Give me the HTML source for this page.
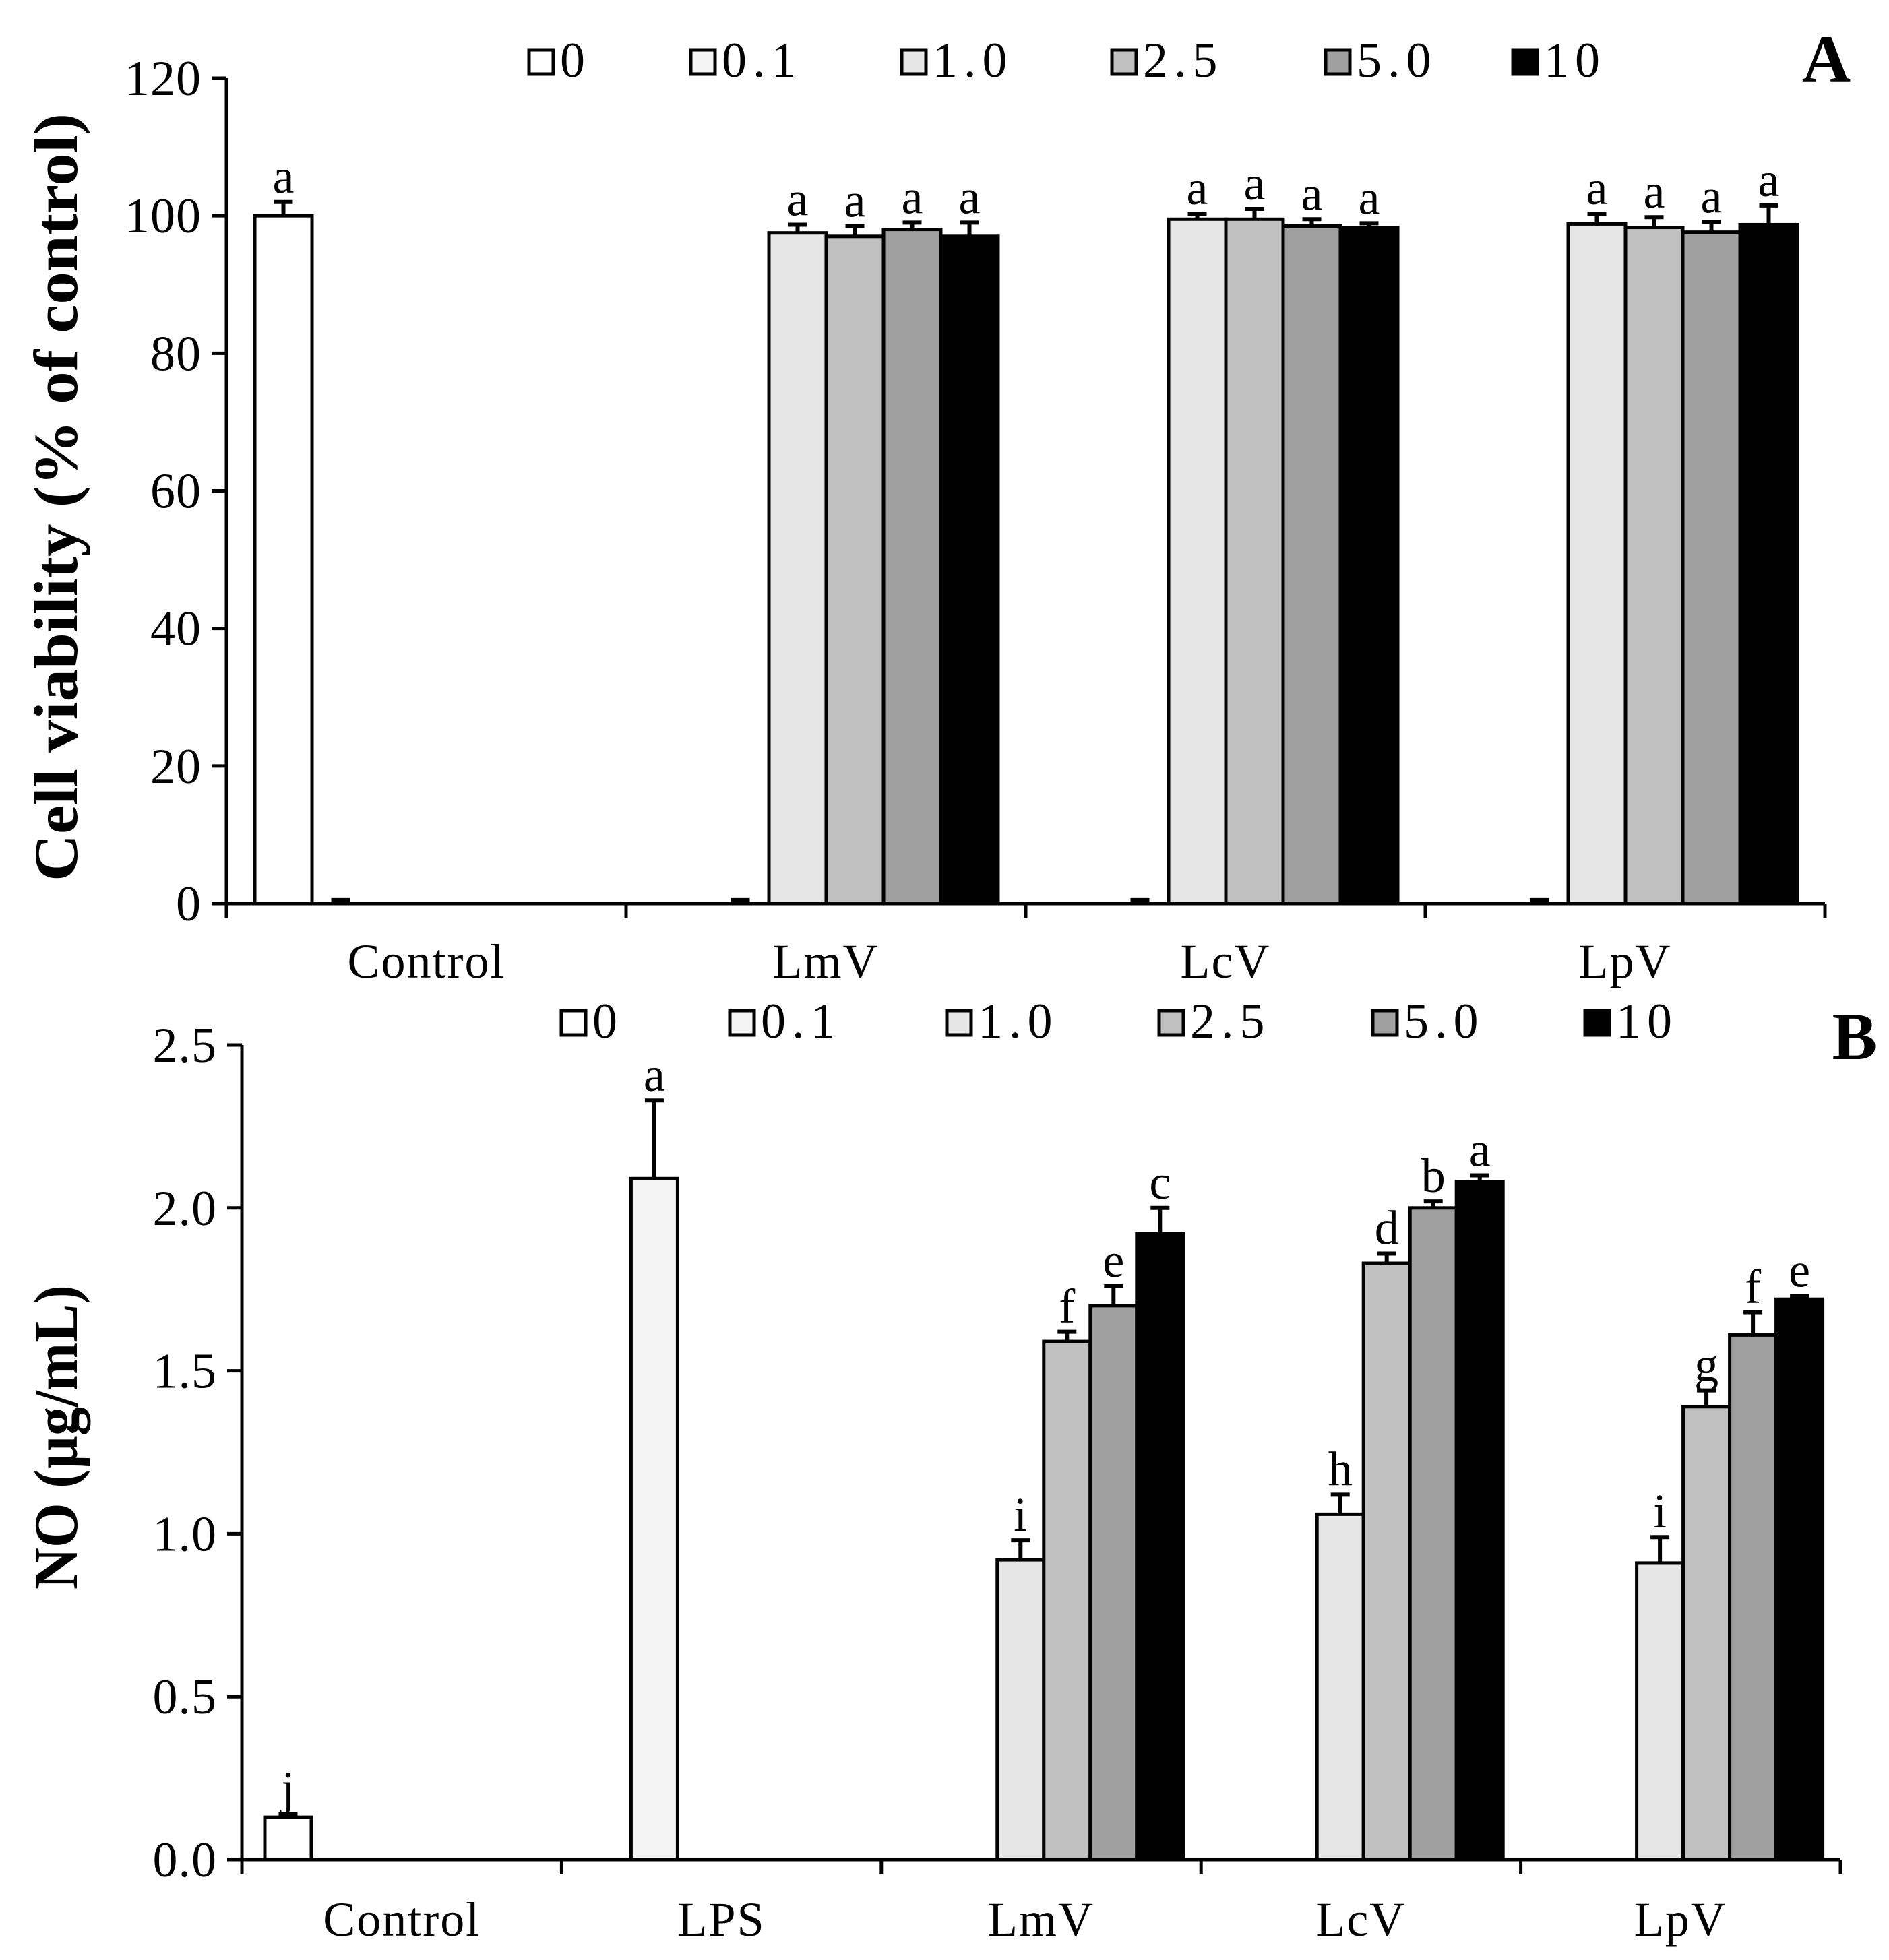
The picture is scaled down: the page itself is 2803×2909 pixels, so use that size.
<!DOCTYPE html>
<html><head><meta charset="utf-8"><style>
html,body{margin:0;padding:0;background:#fff}
svg{display:block}
text{font-family:"Liberation Serif",serif;fill:#000}
</style></head><body>
<svg id="chart" width="2803" height="2909" viewBox="0 0 2803 2909" xmlns="http://www.w3.org/2000/svg"></svg>
<script>
const seriesNames=["0","0.1","1.0","2.5","5.0","10"];
const seriesColors=["#ffffff","#f4f4f4","#e6e6e6","#c0c0c0","#a0a0a0","#000000"];
// Panel A
const catsA=["Control","LmV","LcV","LpV"];
const valsA=[[100,0,0,0],[0,0,0,0],[0,97.5,99.5,98.8],[0,97,99.5,98.3],[0,98,98.5,97.6],[0,97,98.3,98.7]];
const errsA=[[2,0,0,0],[0.5,0.5,0.5,0.5],[0,1.2,0.8,1.5],[0,1.5,1.5,1.5],[0,1,1,1.5],[0,2,0.6,2.8]];
const letA=[["a","","",""],["","","",""],["","a","a","a"],["","a","a","a"],["","a","a","a"],["","a","a","a"]];
const ticksA=["0","20","40","60","80","100","120"];
// Panel B
const catsB=["Control","LPS","LmV","LcV","LpV"];
const valsB=[[0.13,0,0,0,0],[0,2.09,0,0,0],[0,0,0.92,1.06,0.91],[0,0,1.59,1.83,1.39],[0,0,1.70,2.00,1.61],[0,0,1.92,2.08,1.72]];
const errsB=[[0.01,0,0,0,0],[0,0.24,0,0,0],[0,0,0.06,0.06,0.08],[0,0,0.03,0.03,0.05],[0,0,0.06,0.02,0.07],[0,0,0.08,0.02,0.01]];
const letB=[["j","","","",""],["","a","","",""],["","","i","h","i"],["","","f","d","g"],["","","e","b","f"],["","","c","a","e"]];
const ticksB=["0.0","0.5","1.0","1.5","2.0","2.5"];

const svg=document.getElementById('chart');
const NS="http://www.w3.org/2000/svg";
function mk(tag,attrs,parent){const e=document.createElementNS(NS,tag);for(const k in attrs)e.setAttribute(k,attrs[k]);(parent||svg).appendChild(e);return e;}

function panel(cfg){
  const g=mk('g',{});
  
  
  const {x0,x1,y0,y1,vmax,cats,vals,errs,lets,ticks,bw,margin}=cfg;
  const cw=(x1-x0)/cats.length;
  const yS=v=>y0-(v/vmax)*(y0-y1);
  for(let s=0;s<vals.length;s++){
    for(let c=0;c<cats.length;c++){
      const v=vals[s][c],e=errs[s][c];
      const bx=x0+c*cw+margin+s*bw;
      const cx=bx+bw/2;
      if(v>0){
        const r=mk('rect',{x:bx,y:yS(v),width:bw,height:y0-yS(v),fill:seriesColors[s],stroke:'#000','stroke-width':5},g);
        
        
      }
      if(e>0){
        const ye=yS(v+e);
        const l=mk('path',{d:`M${cx},${yS(v)}V${ye}M${cx-14},${ye}H${cx+14}`,stroke:'#000','stroke-width':6,fill:'none'},g);
        
        
      }
      if(lets[s][c]){
        const t=mk('text',{x:cx,y:yS(v+e)-14,'font-size':cfg.lfs,'text-anchor':'middle'},g);
        t.textContent=lets[s][c];
        
        
      }
    }
  }
  const ax=mk('path',{d:`M${x0},${y1}V${y0+22}M${x0-22},${y0}H${x1}`,stroke:'#000','stroke-width':5,fill:'none'},g);
  
  
  ticks.forEach((tl,i)=>{
    const v=i*vmax/(ticks.length-1);
    const y=yS(v);
    const tk=mk('path',{d:`M${x0-22},${y}H${x0}`,stroke:'#000','stroke-width':5},g);
    
    
    const t=mk('text',{x:x0-37,y:y+25,'font-size':74,'letter-spacing':1,'text-anchor':'end'},g);
    t.textContent=tl;
    
    
  });
  for(let c=0;c<=cats.length;c++){
    const x=x0+c*cw;
    const tk=mk('path',{d:`M${x},${y0}V${y0+22}`,stroke:'#000','stroke-width':5},g);
    
    
  }
  cats.forEach((n,c)=>{
    const t=mk('text',{x:x0+(c+0.5)*cw,y:cfg.xly,'font-size':72,'letter-spacing':2,'text-anchor':'middle'},g);
    t.textContent=n;
    
    
  });
  const yt=mk('text',{x:0,y:0,'font-size':cfg.tfs,'font-weight':'bold','text-anchor':'middle',textLength:cfg.tlen,lengthAdjust:'spacingAndGlyphs',transform:`translate(${cfg.tx},${cfg.ty}) rotate(-90)`},g);
  yt.textContent=cfg.title;
  
  
  cfg.legX.forEach((lx,i)=>{
    const le=mk('g',{},g);
    
    
    mk('rect',{x:lx,y:cfg.legY,width:36,height:36,fill:seriesColors[i],stroke:'#000','stroke-width':5},le);
    const t=mk('text',{x:lx+46,y:cfg.legY+40,'font-size':74,'letter-spacing':9},le);
    t.textContent=seriesNames[i];
  });
  const pl=mk('text',{x:cfg.plx,y:cfg.ply,'font-size':100,'font-weight':'bold','text-anchor':'middle'},g);
  pl.textContent=cfg.label;
  
  
}

panel({name:'panel-a',x0:336,x1:2708,y0:1341,y1:116,vmax:120,cats:catsA,vals:valsA,errs:errsA,lets:letA,ticks:ticksA,bw:85,margin:42,lfs:72,xly:1451,title:'Cell viability (% of control)',tfs:92,tlen:1140,tx:114,ty:738,legX:[785,1025,1338,1650,1967,2245],legY:74,plx:2710,ply:121,label:'A'});
panel({name:'panel-b',x0:359,x1:2731,y0:2760,y1:1551,vmax:2.5,cats:catsB,vals:valsB,errs:errsB,lets:letB,ticks:ticksB,bw:69,margin:34,lfs:72,xly:2873,title:'NO (µg/mL)',tfs:92,tlen:452,tx:114,ty:2133,legX:[833,1083,1405,1720,2037,2352],legY:1500,plx:2752,ply:1572,label:'B'});
</script>
</body></html>
